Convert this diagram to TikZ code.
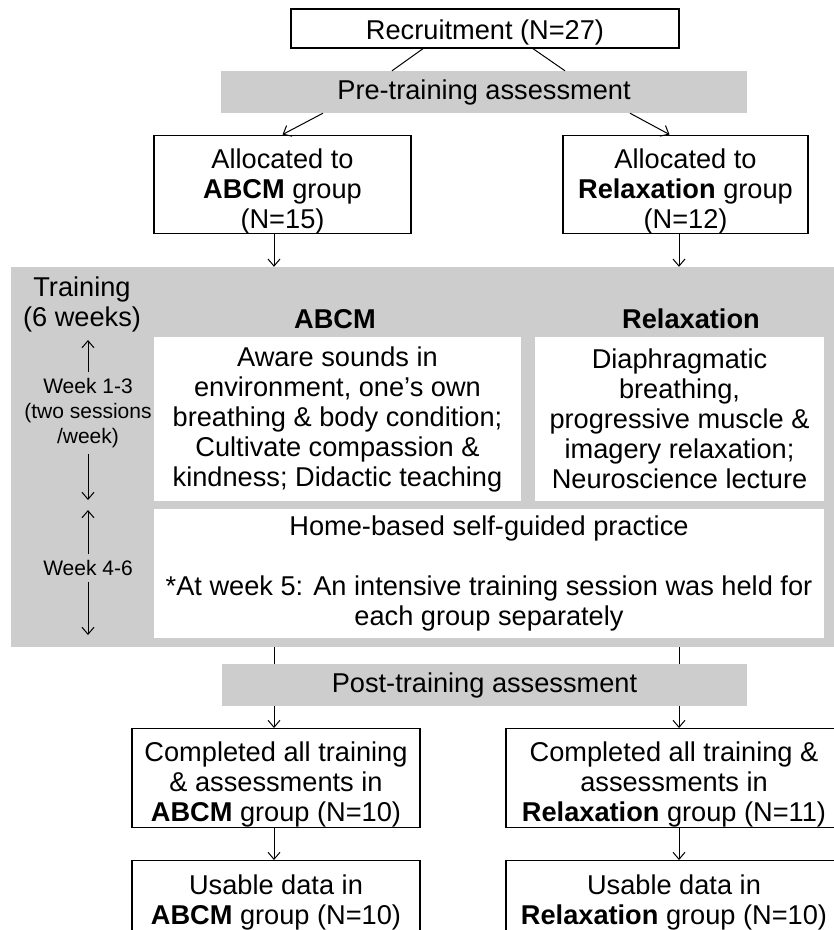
\documentclass[tikz,border=0pt]{standalone}
\usepackage{fontspec}
\setmainfont{Liberation Sans}
\usetikzlibrary{arrows.meta}
\definecolor{boxgrey}{RGB}{205,205,205}
\begin{document}
\begin{tikzpicture}[x=1pt,y=-1pt,
    main/.style = {draw, line width=1.3pt, align=center, inner sep=0pt, text height=93pt, font=\fontsize{27.2}{30}\selectfont},
    grey/.style = {fill=boxgrey, align=center, inner sep=0pt, font=\fontsize{27.2}{30}\selectfont},
    white/.style = {fill=white, align=center, inner sep=0pt, font=\fontsize{27.2}{30}\selectfont},
    week/.style = {align=center, inner sep=0pt, outer ysep=6pt, font=\fontsize{21}{25}\selectfont},
    arr/.style = {-{Straight Barb[length=7pt,width=12pt]}, line width=1pt}]
    \useasboundingbox (0,0) rectangle (834,930);
    \node[main, minimum width=388, minimum height=39, text height=27pt] (1) at (485,28.5) {Recruitment (N=27)};
    \node[grey, minimum width=526, minimum height=42] (2) at (484,92) {Pre-training assessment};
    \node[main, minimum width=257, minimum height=93] (3) at (282.5,184.5) {Allocated to\\\textbf{ABCM} group\\(N=15)};
    \node[main, minimum width=245, minimum height=93] (4) at (685.5,184.5) {Allocated to\\\textbf{Relaxation} group\\(N=12)};
    \node[grey, minimum width=830, minimum height=380] (5) at (426,457) {};
    \node[grey] (6) at (82,304) {Training\\(6 weeks)};
    \node[grey] (7) at (335,319) {\textbf{ABCM}};
    \node[grey] (8) at (691,319) {\textbf{Relaxation}};
    \node[white, minimum width=367, minimum height=164] (9) at (337.5,419) {Aware sounds in\\environment, one’s own\\breathing \& body condition;\\Cultivate compassion \&\\kindness; Didactic teaching};
    \node[white, minimum width=289, minimum height=164] (10) at (679.5,419) {Diaphragmatic\\breathing,\\progressive muscle \&\\imagery relaxation;\\Neuroscience lecture};
    \node[white, minimum width=670, minimum height=129] (11) at (489,573.5) {Home-based self-guided practice\\[30pt]*At week 5: An intensive training session was held for\\each group separately};
    \node[week] (12) at (88,413) {Week 1-3\\(two sessions\\/week)};
    \node[week] (13) at (88,568) {Week 4-6};
    \node[grey, minimum width=525, minimum height=42] (14) at (484.5,685) {Post-training assessment};
    \node[main, minimum width=288, minimum height=98] (15) at (276,778) {Completed all training\\\& assessments in\\\textbf{ABCM} group (N=10)};
    \node[main, minimum width=336, minimum height=98] (16) at (674,778) {Completed all training \&\\assessments in\\\textbf{Relaxation} group (N=11)};
    \node[main, minimum width=288, minimum height=63, text height=64pt] (17) at (276,895.5) {Usable data in\\\textbf{ABCM} group (N=10)};
    \node[main, minimum width=336, minimum height=63, text height=64pt] (18) at (674,895.5) {Usable data in\\\textbf{Relaxation} group (N=10)};
    \coordinate (a) at (274,0);
    \coordinate (b) at (679,0);
    \coordinate (w1) at (88,340);
    \coordinate (w2) at (88,500);
    \coordinate (w3) at (88,510);
    \coordinate (w4) at (88,635);
    \draw[line width=1pt] ([xshift=-62pt]1.south) -- ([xshift=-92pt]2.north);
    \draw[line width=1pt] ([xshift=48pt]1.south) -- ([xshift=81pt]2.north);
    \draw[arr] ([xshift=-161pt]2.south) -- (3.north);
    \draw[arr] ([xshift=146pt]2.south) -- ([xshift=-16pt]4.north);
    \draw[arr] (3.south -| a) -- (5.north -| a);
    \draw[arr] (4.south -| b) -- (5.north -| b);
    \draw[arr] (12.north) -- (w1);
    \draw[arr] (12.south) -- (w2);
    \draw[arr] (13.north) -- (w3);
    \draw[arr] (13.south) -- (w4);
    \draw[line width=1pt] (5.south -| a) -- (14.north -| a);
    \draw[line width=1pt] (5.south -| b) -- (14.north -| b);
    \draw[arr] (14.south -| a) -- (15.north -| a);
    \draw[arr] (14.south -| b) -- (16.north -| b);
    \draw[arr] (15.south -| a) -- (17.north -| a);
    \draw[arr] (16.south -| b) -- (18.north -| b);
    %\draw[arr] (5.east) -- (11.east);
\end{tikzpicture}
\end{document}
